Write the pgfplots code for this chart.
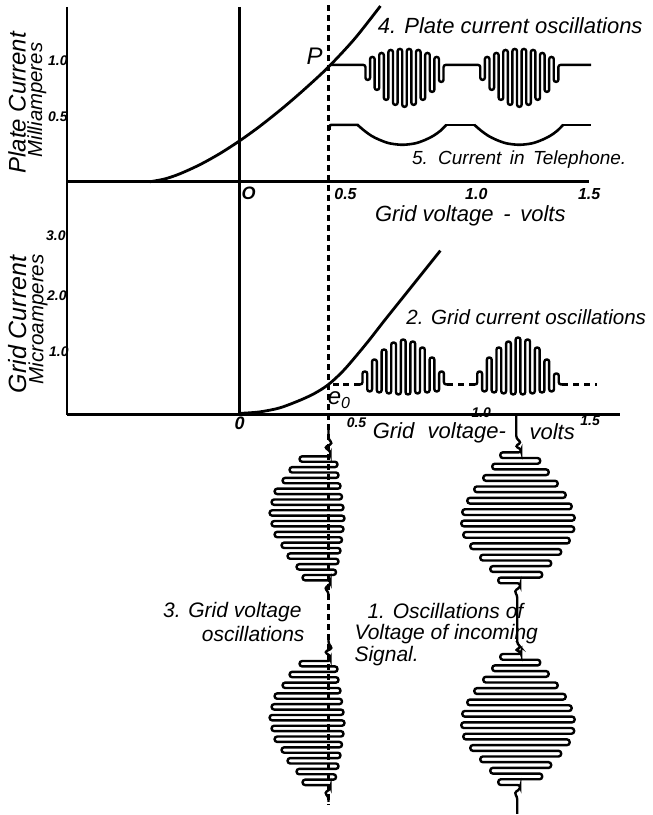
\documentclass[border=0pt]{standalone}
\usepackage{pgfplots}
\pgfplotsset{compat=1.18}
\usepackage{fontspec}
\setmainfont{Liberation Sans}

\newcommand{\fs}[1]{\fontsize{#1}{#1}\selectfont\itshape}

\begin{document}
\begin{tikzpicture}
\begin{axis}[
  width=326.5pt, height=407.5pt, scale only axis,
  xmin=0, xmax=653, ymin=0, ymax=815, y dir=reverse,
  hide axis, clip=false,
]
\path (axis cs:0,0) rectangle (axis cs:653,815);

% dashed operating-point line
\addplot[black, line width=1.2pt, dash pattern=on 3pt off 2pt] coordinates {(329,5) (329,806)};

% axes
\addplot[black, line width=1.4pt] coordinates {(67,7) (67,416)};
\addplot[black, line width=1.3pt] coordinates {(240,7) (240,416)};
\addplot[black, line width=1.4pt] coordinates {(67,182) (590,182)};
\addplot[black, line width=1.4pt] coordinates {(67,415) (621,415)};

% plate current characteristic
\addplot[black, line width=1.4pt, smooth] coordinates {(150,182) (165,179.2) (180,174.1) (200,165) (220,153.9) (240,141) (260,126.6) (283,108.3) (305,89.3) (329,67) (355,39) (381,6)};

% grid current characteristic
\addplot[black, line width=1.4pt, smooth] coordinates {(240,414) (260,412.5) (280,408.5) (300,401) (315,394) (329,385) (345,370) (367,344) (385,321) (405,296) (425,271) (441,251)};

% 4. plate current oscillations
\addplot[black, line width=1.2pt, rounded corners=1.1pt] coordinates {
(331,65) (366,65) (366,80) (370.6,80) (370.6,57) (375.2,57) (375.2,90) (379.8,90) (379.8,53) (384.4,53) (384.4,100) (389,100) (389,50) (393.6,50) (393.6,105) (398.2,105) (398.2,49) (402.8,49) (402.8,107) (407.4,107) (407.4,49) (412,49) (412,105) (416.6,105) (416.6,50) (421.2,50) (421.2,100) (425.8,100) (425.8,53) (430.4,53) (430.4,92) (435,92) (435,57) (439.6,57) (439.6,82) (444.2,82) (444.2,65)
(481,65) (481,80) (485.6,80) (485.6,57) (490.2,57) (490.2,90) (494.8,90) (494.8,53) (499.4,53) (499.4,100) (504,100) (504,50) (508.6,50) (508.6,105) (513.2,105) (513.2,49) (517.8,49) (517.8,107) (522.4,107) (522.4,49) (527,49) (527,105) (531.6,105) (531.6,50) (536.2,50) (536.2,100) (540.8,100) (540.8,53) (545.4,53) (545.4,92) (550,92) (550,57) (554.6,57) (554.6,82) (559.2,82) (559.2,65) (592,65)};

% 5. current in telephone
\addplot[black, line width=1.3pt, rounded corners=1pt] coordinates {(330,130) (330,125) (359,125)};
\addplot[black, line width=1.3pt, smooth] coordinates {(358,125) (365,131) (372,136) (380,140) (390,143.5) (403,145) (416,143.5) (426,140) (434,136) (441,131) (447,125)};
\addplot[black, line width=1.3pt] coordinates {(446,125) (476,125)};
\addplot[black, line width=1.3pt, smooth] coordinates {(475,125) (482,131) (489,136) (497,140) (507,143.5) (520,145) (533,143.5) (543,140) (551,136) (558,131) (564,125)};
\addplot[black, line width=1.3pt] coordinates {(563,125) (592,125)};

% 2. grid current oscillations
\addplot[black, line width=1.2pt, dash pattern=on 3pt off 2.5pt] coordinates {(333,385) (361,385)};
\addplot[black, line width=1.2pt, dash pattern=on 3pt off 2.5pt] coordinates {(448,385) (476,385)};
\addplot[black, line width=1.2pt, dash pattern=on 3pt off 2.5pt] coordinates {(563,385) (598,385)};
\addplot[black, line width=1.2pt, rounded corners=1.1pt] coordinates {
(359,385) (363,385) (363,372) (367.8,372) (367.8,392) (372.6,392) (372.6,360) (377.4,360) (377.4,393) (382.2,393) (382.2,350) (387,350) (387,394) (391.8,394) (391.8,343) (396.6,343) (396.6,395) (401.4,395) (401.4,340) (406.2,340) (406.2,395) (411,395) (411,342) (415.8,342) (415.8,394) (420.6,394) (420.6,348) (425.4,348) (425.4,393) (430.2,393) (430.2,358) (435,358) (435,392) (439.8,392) (439.8,372) (444.6,372) (444.6,385) (448,385)};
\addplot[black, line width=1.2pt, rounded corners=1.1pt] coordinates {
(475,385) (478,385) (478,372) (482.8,372) (482.8,392) (487.6,392) (487.6,358) (492.4,358) (492.4,393) (497.2,393) (497.2,348) (502,348) (502,394) (506.8,394) (506.8,342) (511.6,342) (511.6,395) (516.4,395) (516.4,338) (521.2,338) (521.2,395) (526,395) (526,340) (530.8,340) (530.8,394) (535.6,394) (535.6,348) (540.4,348) (540.4,393) (545.2,393) (545.2,360) (550,360) (550,392) (554.8,392) (554.8,374) (559.6,374) (559.6,385) (563,385)};

% 3. grid voltage oscillations (upper)
\addplot[black, line width=1.2pt, rounded corners=1.3pt] coordinates {
(329,430) (329,440) (333,444) (325,448) (331,452) (331,457) (300,457) (300,462.4) (338,462.4) (338,467.8) (290,467.8) (290,473.2) (339,473.2) (339,478.6) (283,478.6) (283,484) (341,484) (341,489.4) (275,489.4) (275,494.8) (342.5,494.8) (342.5,500.2) (272,500.2) (272,505.6) (344,505.6) (344,511) (270,511) (270,516.4) (345,516.4) (345,521.8) (272,521.8) (272,527.2) (344,527.2) (344,532.6) (275,532.6) (275,538) (342.5,538) (342.5,543.4) (282,543.4) (282,548.8) (341,548.8) (341,554.2) (288,554.2) (288,559.6) (339,559.6) (339,565) (297,565) (297,570.4) (336.5,570.4) (336.5,575.8) (303,575.8) (303,581.2) (331,581.2) (331,585) (325,589) (329,593) (329,600)};
% 3. grid voltage oscillations (lower)
\addplot[black, line width=1.2pt, rounded corners=1.3pt] coordinates {
(329,635) (329,645) (333,649) (325,653) (331,657) (331,662) (300,662) (300,667.4) (338,667.4) (338,672.8) (290,672.8) (290,678.2) (339,678.2) (339,683.6) (283,683.6) (283,689) (341,689) (341,694.4) (275,694.4) (275,699.8) (342.5,699.8) (342.5,705.2) (272,705.2) (272,710.6) (344,710.6) (344,716) (270,716) (270,721.4) (345,721.4) (345,726.8) (272,726.8) (272,732.2) (344,732.2) (344,737.6) (275,737.6) (275,743) (342.5,743) (342.5,748.4) (282,748.4) (282,753.8) (341,753.8) (341,759.2) (288,759.2) (288,764.6) (339,764.6) (339,770) (297,770) (297,775.4) (336.5,775.4) (336.5,780.8) (303,780.8) (303,786.2) (331,786.2) (331,790) (325,794) (329,798) (329,803)};

% 1. incoming signal oscillations
\addplot[black, line width=1.2pt, rounded corners=1.3pt] coordinates {
(517,416) (517,439) (522,443) (516,447) (522,450) (522,453) (501,453) (501,458.7) (541,458.7) (541,464.4) (493,464.4) (493,470.1) (549.5,470.1) (549.5,475.8) (484,475.8) (484,481.5) (558.5,481.5) (558.5,487.2) (475,487.2) (475,492.9) (566.5,492.9) (566.5,498.6) (468,498.6) (468,504.3) (572.5,504.3) (572.5,510) (463,510) (463,515.7) (575.5,515.7) (575.5,521.4) (462,521.4) (462,527.1) (575,527.1) (575,532.8) (464,532.8) (464,538.5) (570.5,538.5) (570.5,544.2) (471,544.2) (471,549.9) (562,549.9) (562,555.6) (481,555.6) (481,561.3) (552,561.3) (552,567) (491,567) (491,572.7) (543,572.7) (543,578.4) (499,578.4) (499,584.1) (521,584.1) (521,588) (515,592) (518,596)
(518,645) (522,648) (516,651) (522,653) (522,655) (501,655) (501,660.7) (541,660.7) (541,666.4) (493,666.4) (493,672.1) (549.5,672.1) (549.5,677.8) (484,677.8) (484,683.5) (558.5,683.5) (558.5,689.2) (475,689.2) (475,694.9) (566.5,694.9) (566.5,700.6) (468,700.6) (468,706.3) (572.5,706.3) (572.5,712) (463,712) (463,717.7) (575.5,717.7) (575.5,723.4) (462,723.4) (462,729.1) (575,729.1) (575,734.8) (464,734.8) (464,740.5) (570.5,740.5) (570.5,746.2) (471,746.2) (471,751.9) (562,751.9) (562,757.6) (481,757.6) (481,763.3) (552,763.3) (552,769) (491,769) (491,774.7) (543,774.7) (543,780.4) (499,780.4) (499,786.1) (521,786.1) (521,790) (515,794) (518,798) (518,815)};

% ---- text ----
\node[font=\fs{12}, rotate=90] at (axis cs:17,103) {Plate Current};
\node[font=\fs{10.2}, rotate=90] at (axis cs:37,100) {Milliamperes};
\node[font=\fs{12.5}, rotate=90] at (axis cs:18,325) {Grid Current};
\node[font=\fs{10.3}, rotate=90] at (axis cs:38,320) {Microamperes};

\node[font=\fs{7}\bfseries] at (axis cs:58,61) {1.0};
\node[font=\fs{7}\bfseries] at (axis cs:58,117) {0.5};
\node[font=\fs{7}\bfseries] at (axis cs:56,236) {3.0};
\node[font=\fs{7}\bfseries] at (axis cs:57,296) {2.0};
\node[font=\fs{7}\bfseries] at (axis cs:59,352) {1.0};

\node[font=\fs{9}\bfseries] at (axis cs:249,194) {O};
\node[font=\fs{8}\bfseries] at (axis cs:346,194) {0.5};
\node[font=\fs{8}\bfseries] at (axis cs:477,194) {1.0};
\node[font=\fs{8}\bfseries] at (axis cs:590,194) {1.5};
\node[font=\fs{11}] at (axis cs:471,216) {Grid voltage \,-\, volts};

\node[font=\fs{9}\bfseries] at (axis cs:240,424) {0};
\node[font=\fs{7}\bfseries] at (axis cs:357,423) {0.5};
\node[font=\fs{7}\bfseries] at (axis cs:482,413) {1.0};
\node[font=\fs{7}\bfseries] at (axis cs:591,421) {1.5};
\node[font=\fs{11}] at (axis cs:440,433) {Grid\,\, voltage-};
\node[font=\fs{11}] at (axis cs:553,432) {volts};

\node[font=\fs{12}] at (axis cs:315,56) {P};
\node[font=\fs{11}] at (axis cs:511,26) {4. Plate current oscillations};
\node[font=\fs{9.5}] at (axis cs:520,160) {5.\, Current\, in\, Telephone.};
\node[font=\fs{10.3}] at (axis cs:527,318) {2. Grid current oscillations};
\node[font=\fs{12}] at (axis cs:340,401) {e\textsubscript{0}};

\node[font=\fs{10.5}, anchor=east] at (axis cs:309,613) {3. Grid voltage};
\node[font=\fs{10.5}, anchor=east] at (axis cs:312,635) {oscillations};
\node[font=\fs{10.5}, anchor=west] at (axis cs:361,612) {1. Oscillations of};
\node[font=\fs{10.5}, anchor=west] at (axis cs:348,635) {Voltage of incoming};
\node[font=\fs{10.5}, anchor=west] at (axis cs:348,657) {Signal.};
\end{axis}
\end{tikzpicture}
\end{document}
